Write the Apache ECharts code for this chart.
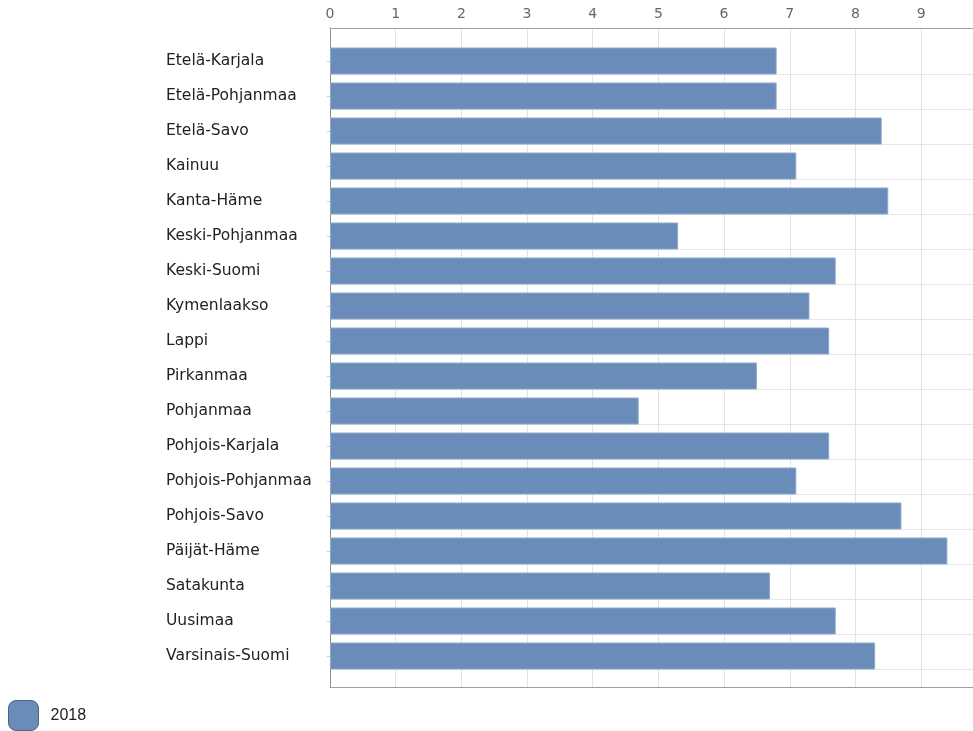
<!DOCTYPE html>
<html>
<head>
<meta charset="utf-8">
<script src="https://cdn.jsdelivr.net/npm/echarts@6/dist/echarts.min.js"></script>
<style>html,body{margin:0;padding:0;background:#fff;}#c{width:973px;height:731px;}</style>
</head>
<body>
<div id="c"></div>
<script>
const categories = ["Etelä-Karjala","Etelä-Pohjanmaa","Etelä-Savo","Kainuu","Kanta-Häme","Keski-Pohjanmaa","Keski-Suomi","Kymenlaakso","Lappi","Pirkanmaa","Pohjanmaa","Pohjois-Karjala","Pohjois-Pohjanmaa","Pohjois-Savo","Päijät-Häme","Satakunta","Uusimaa","Varsinais-Suomi"];
const values2018 = [6.8,6.8,8.4,7.1,8.5,5.3,7.7,7.3,7.6,6.5,4.7,7.6,7.1,8.7,9.4,6.7,7.7,8.3];
const seriesName = "2018";
const xMin = 0, xMax = 9.79, xStep = 1;

const chart = echarts.init(document.getElementById('c'), null, {renderer:'canvas'});
const L = 330, R = 0;
chart.setOption({
  animation:false,
  backgroundColor:'#fff',
  grid:[
    {left:L, right:R, top:28, bottom:44},
    {left:L, right:R, top:43.5, bottom:57.5},
    {left:L, right:R, top:74.3, bottom:61.7}
  ],
  xAxis:[
    {gridIndex:0, type:'value', position:'top', min:xMin, max:xMax, interval:xStep,
     axisLine:{show:true, onZero:false, lineStyle:{color:'#a0a0a0'}}, axisTick:{show:false},
     axisLabel:{color:'#666', fontSize:14, fontFamily:'DejaVu Sans', margin:7, showMaxLabel:false},
     splitLine:{show:true, showMaxLine:false, lineStyle:{color:'#e2e2e2', width:1}}},
    {gridIndex:0, type:'value', position:'bottom', min:xMin, max:xMax,
     axisLine:{show:true, onZero:false, lineStyle:{color:'#a0a0a0'}}, axisTick:{show:false}, axisLabel:{show:false}, splitLine:{show:false}},
    {gridIndex:1, type:'value', min:xMin, max:xMax, show:false},
    {gridIndex:2, type:'value', min:0, max:1, show:false}
  ],
  yAxis:[
    {gridIndex:0, type:'value', min:0, max:1,
     axisLine:{show:true, onZero:false, lineStyle:{color:'#909090'}}, axisTick:{show:false}, axisLabel:{show:false}, splitLine:{show:false}},
    {gridIndex:1, type:'category', inverse:true, data:categories,
     axisLine:{show:false}, axisTick:{show:true, alignWithLabel:true, length:3, lineStyle:{color:'#ccc'}},
     axisLabel:{align:'left', margin:164, color:'#222', fontSize:15.5, fontFamily:'DejaVu Sans'},
     splitLine:{show:false}},
    {gridIndex:2, type:'value', inverse:true, min:0, max:categories.length-1, interval:1,
     axisLine:{show:false}, axisTick:{show:false}, axisLabel:{show:false},
     splitLine:{show:true, lineStyle:{color:'#e6e6e6', width:1}}}
  ],
  legend:{
    left:8, top:700, padding:0, itemWidth:30, itemHeight:30, icon:'roundRect',
    itemStyle:{borderColor:'#55657e', borderWidth:1},
    textStyle:{fontSize:16, color:'#222', fontFamily:'Liberation Sans', padding:[0,0,0,7]},
    data:[seriesName]
  },
  series:[
    {name:seriesName, type:'bar', xAxisIndex:2, yAxisIndex:1, data:values2018, barWidth:27,
     itemStyle:{color:'#6a8cb9', borderColor:'#8ea8cc', borderWidth:1}, z:3}
  ]
});
</script>
</body>
</html>
